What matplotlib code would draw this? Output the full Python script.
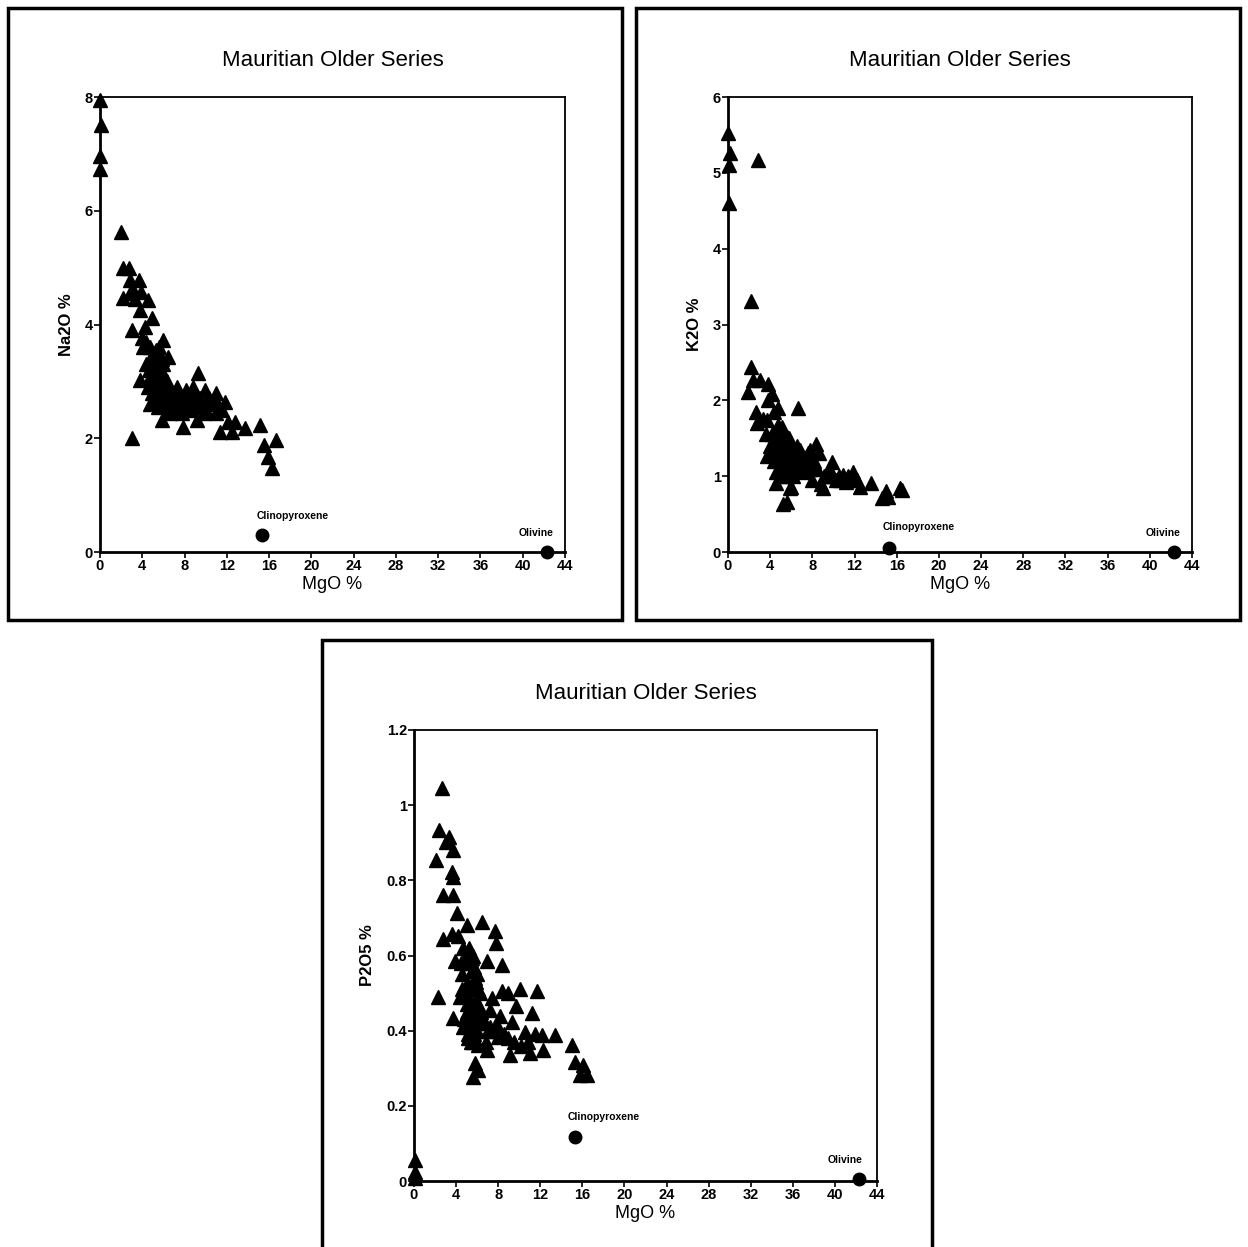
import matplotlib
matplotlib.use("Agg")
import matplotlib.pyplot as plt
from matplotlib.patches import Rectangle

plt.rcParams['font.family'] = ['Liberation Sans', 'DejaVu Sans']

# MgO vs Na2O
na_mgo = [0.05, 0.1, 0.05, 0.05, 1.96, 2.2, 2.74, 2.84, 3.69, 2.2, 3.1, 3.9, 4.57, 3.78, 4.9,
          3.0, 4.26, 3.94, 5.96, 6.46, 5.36, 3.78, 4.73, 5.83, 3.0, 7.87, 9.14, 9.3, 8.8, 8.2,
          9.93, 11.0, 11.8, 12.1, 12.77, 11.35, 12.46, 13.7, 15.1, 16.7, 15.5, 15.9, 16.3,
          5.0, 5.2, 5.5, 5.3, 5.8, 6.0, 6.2, 5.5, 6.5, 7.0, 7.5, 6.8, 6.3, 5.8, 6.0, 4.8, 4.9,
          5.1, 7.2, 8.0, 8.5, 9.0, 9.5, 10.0, 10.5, 11.0, 8.6, 9.8, 7.8, 6.6, 4.6, 4.7, 5.0,
          4.4, 4.5, 2.8, 3.3, 4.1, 4.4, 5.6, 5.9, 6.1, 7.3, 10.3, 11.5,
          5.1, 5.4, 5.7, 6.4, 6.9, 7.6, 8.3, 5.2, 5.6, 6.0, 6.7, 7.4, 8.9, 9.6, 10.8, 11.3,
          5.3, 5.9, 6.2, 4.9, 5.4, 7.1, 8.1, 9.2, 10.1, 4.6, 5.0]
na_val = [7.94, 7.5, 6.96, 6.73, 5.63, 4.99, 4.99, 4.78, 4.78, 4.46, 4.6, 4.57, 4.43, 4.25, 4.11,
          3.9, 3.96, 3.76, 3.72, 3.43, 3.43, 3.02, 2.61, 2.32, 2.0, 2.2, 2.32, 3.14, 2.9, 2.79,
          2.85, 2.79, 2.64, 2.29, 2.29, 2.11, 2.11, 2.18, 2.23, 1.97, 1.88, 1.67, 1.47,
          3.3, 3.1, 3.0, 2.9, 2.8, 2.7, 2.6, 2.55, 2.5, 2.6, 2.7, 2.8, 3.0, 3.2, 3.3, 3.0, 2.8,
          2.7, 2.5, 2.6, 2.75, 2.6, 2.7, 2.5, 2.6, 2.45, 2.5, 2.45, 2.45, 2.45, 3.2, 3.6, 3.5,
          3.3, 2.9, 4.55, 4.45, 3.6, 3.7, 3.6, 2.9, 3.1, 2.9, 2.7, 2.5,
          3.45, 3.25, 3.05, 2.85, 2.65, 2.55, 2.7, 2.95, 2.75, 2.95, 2.65, 2.85, 2.8, 2.55, 2.65,
          2.55, 3.55, 3.4, 2.75, 3.4, 2.65, 2.75, 2.85, 2.75, 2.65, 3.05, 3.15]

# MgO vs K2O
k_mgo = [0.03, 0.2, 0.12, 2.87, 0.12, 2.15, 2.15, 1.93, 2.4, 3.03, 3.82, 4.14, 3.82, 4.77, 6.66,
         2.65, 2.72, 3.67, 4.77, 3.73, 5.56, 7.77, 8.34, 9.83, 4.6, 4.6, 6.0, 9.0, 10.9, 11.9,
         12.5, 13.55, 15.0, 16.3, 5.24, 5.6, 5.9, 14.6, 15.2, 16.5,
         4.2, 4.5, 4.8, 5.0, 5.2, 5.4, 5.7, 6.0, 6.3, 6.6, 7.0, 7.4, 7.8, 8.2, 8.6, 9.2, 9.6,
         10.2, 10.6, 11.2, 4.4, 5.0, 5.3, 5.8, 6.2, 6.8, 7.2, 3.6, 4.0, 3.3, 4.4, 5.1, 5.5, 6.4,
         10.0, 11.4, 12.2, 8.0, 8.8,
         4.7, 5.1, 5.5, 5.9, 6.3, 6.7, 4.9, 5.3, 5.7, 6.1, 6.5, 7.3, 7.6, 8.4, 9.1, 4.3, 4.9,
         5.6, 6.2, 5.0, 5.4, 5.8, 10.5, 11.7]
k_val = [5.52, 5.26, 5.1, 5.17, 4.6, 3.31, 2.44, 2.11, 2.27, 2.27, 2.22, 2.09, 2.0, 1.9, 1.9,
         1.85, 1.7, 1.74, 1.68, 1.26, 1.52, 1.35, 1.43, 1.19, 1.06, 0.91, 0.86, 0.84, 1.02, 1.06,
         0.86, 0.91, 0.8, 0.84, 0.64, 0.66, 0.84, 0.71, 0.73, 0.82,
         1.55, 1.45, 1.6, 1.5, 1.35, 1.45, 1.3, 1.4, 1.2, 1.3, 1.15, 1.25, 1.1, 1.2, 1.3, 1.0,
         1.05, 0.95, 0.95, 0.92, 1.2, 1.1, 1.25, 1.05, 1.0, 1.35, 1.05, 1.55, 1.4, 1.75, 1.85,
         1.65, 1.15, 1.1, 1.0, 1.0, 0.95, 0.95, 0.9,
         1.4, 1.3, 1.5, 1.2, 1.1, 1.2, 1.0, 1.1, 1.35, 1.3, 1.4, 1.2, 1.3, 1.1, 1.0, 1.35, 1.25,
         1.0, 1.25, 1.55, 1.4, 1.5, 1.0, 0.95]

# MgO vs P2O5
p_mgo = [0.1, 0.1, 0.1, 2.63, 2.4, 3.36, 3.04, 3.68, 2.09, 3.58, 3.74, 2.73, 3.68, 4.06, 5.07,
         6.43, 7.7, 7.8, 2.79, 3.58, 4.21, 4.69, 3.9, 5.48, 6.9, 8.34, 2.25, 4.53, 7.39, 8.34,
         8.97, 10.1, 11.66, 9.7, 11.2, 3.74, 7.2, 7.86, 9.3, 10.55, 12.14, 13.4, 14.99, 12.3,
         11.03, 9.13, 6.9, 6.11, 8.0, 5.8, 6.11, 5.64, 15.3, 16.1, 15.8, 16.4,
         4.6, 4.8, 5.0, 5.2, 5.4, 5.6, 5.8, 6.0, 6.2, 4.7, 5.1, 5.5, 5.9, 6.3, 6.6, 4.9, 5.3,
         5.7, 6.1, 6.5, 7.0, 4.5, 5.2, 5.6, 6.0, 4.4, 4.8, 5.4, 6.8, 7.5, 8.6, 9.5, 10.2,
         5.0, 5.3, 5.6, 5.9, 5.2, 5.5, 5.8, 6.1, 4.9, 5.4, 5.7, 6.4, 6.0, 5.1, 5.6, 7.2, 8.2,
         8.9, 10.8, 11.5]
p_val = [0.056, 0.025, 0.008, 1.045, 0.934, 0.916, 0.903, 0.88, 0.854, 0.823, 0.81, 0.761, 0.761,
         0.712, 0.681, 0.69, 0.665, 0.634, 0.643, 0.656, 0.652, 0.621, 0.585, 0.594, 0.585,
         0.576, 0.49, 0.51, 0.487, 0.505, 0.5, 0.51, 0.505, 0.465, 0.447, 0.433, 0.455, 0.415,
         0.424, 0.397, 0.388, 0.388, 0.362, 0.349, 0.34, 0.335, 0.349, 0.362, 0.384, 0.313,
         0.295, 0.277, 0.317, 0.309, 0.282, 0.282,
         0.55, 0.5, 0.45, 0.52, 0.48, 0.42, 0.46, 0.4, 0.44, 0.41, 0.38, 0.56, 0.53, 0.5, 0.43,
         0.6, 0.58, 0.39, 0.47, 0.42, 0.4, 0.58, 0.62, 0.6, 0.55, 0.49, 0.43, 0.37, 0.37, 0.4,
         0.39, 0.37, 0.36,
         0.47, 0.44, 0.51, 0.48, 0.41, 0.45, 0.54, 0.51, 0.52, 0.59, 0.57, 0.45, 0.42, 0.39,
         0.37, 0.41, 0.44, 0.38, 0.37, 0.39]

mineral_names = ['Clinopyroxene', 'Olivine']
mineral_mgo = [15.3, 42.3]
mineral_na = [0.3, 0.0]
mineral_k = [0.05, 0.0]
mineral_p = [0.117, 0.005]

x_ticks = list(range(0, 45, 4))

fig = plt.figure(figsize=(12.48, 12.47), dpi=100)

# frames around each panel (pixel boxes)
for (x0, y0, x1, y1) in [(8, 8, 622, 620), (636, 8, 1240, 620), (322, 640, 932, 1252)]:
    fig.patches.append(Rectangle((x0 / 1248, 1 - y1 / 1247), (x1 - x0) / 1248, (y1 - y0) / 1247,
                                 transform=fig.transFigure, fill=False, lw=2.5, ec='black'))


def panel(rect, xs, ys, mvals, ylim, yticks, ylabels, ylab, label_off):
    ax = fig.add_axes(rect)
    ax.plot(xs, ys, linestyle='none', marker='^', ms=10.5, color='black', clip_on=False)
    ax.plot(mineral_mgo, mvals, linestyle='none', marker='o', ms=9, color='black', clip_on=False)
    for name, x, y, off in zip(mineral_names, mineral_mgo, mvals, label_off):
        ax.annotate(name, (x, y), xytext=off, textcoords='offset points', ha='center',
                    va='bottom', fontsize=7.5, fontweight='bold')
    ax.set_xlim(0, 44)
    ax.set_ylim(*ylim)
    ax.set_xticks(x_ticks)
    ax.set_yticks(yticks)
    ax.set_yticklabels(ylabels)
    ax.tick_params(direction='out', length=4, width=1.2, labelsize=10.5, pad=1)
    for t in ax.get_xticklabels() + ax.get_yticklabels():
        t.set_fontweight('bold')
    for s in ['left', 'bottom']:
        ax.spines[s].set_linewidth(2)
    for s in ['top', 'right']:
        ax.spines[s].set_linewidth(1.3)
    ax.set_xlabel('MgO %', fontsize=13, labelpad=2)
    ax.set_ylabel(ylab, fontsize=12, fontweight='bold', labelpad=8)
    ax.set_title('Mauritian Older Series', fontsize=16, pad=22)
    return ax


panel([0.0801, 0.5573, 0.3726, 0.3649], na_mgo, na_val, mineral_na, (0, 8),
      [0, 2, 4, 6, 8], ['0', '2', '4', '6', '8'], 'Na2O %', [(22, 10), (-8, 10)])
panel([0.5833, 0.5573, 0.3718, 0.3649], k_mgo, k_val, mineral_k, (0, 6),
      [0, 1, 2, 3, 4, 5, 6], ['0', '1', '2', '3', '4', '5', '6'], 'K2O %', [(21, 12), (-8, 10)])
panel([0.3317, 0.0529, 0.371, 0.3617], p_mgo, p_val, mineral_p, (0, 1.2),
      [0, 0.2, 0.4, 0.6, 0.8, 1.0, 1.2], ['0', '0.2', '0.4', '0.6', '0.8', '1', '1.2'],
      'P2O5 %', [(21, 11), (-10, 10)])

fig.savefig('out.png', dpi=100, facecolor='white')
